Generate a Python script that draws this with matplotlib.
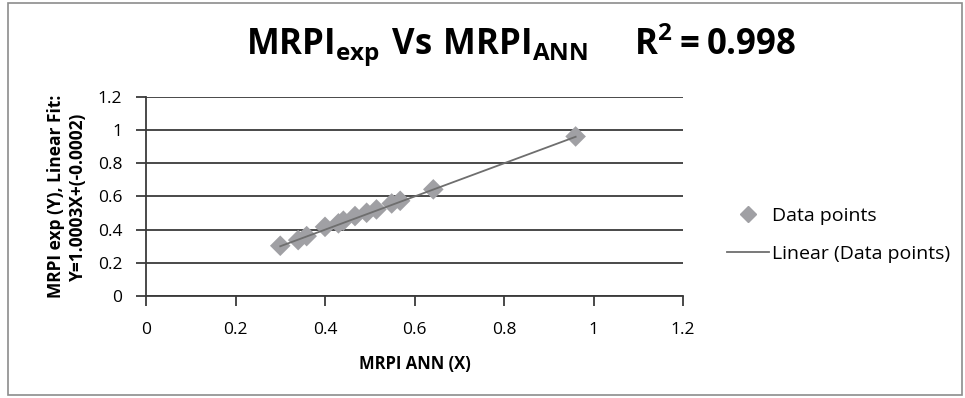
import matplotlib
matplotlib.use("Agg")
import matplotlib.pyplot as plt
from matplotlib.patches import Rectangle
from matplotlib.lines import Line2D
import numpy as np

# Data
x_ann = [0.30, 0.34, 0.359, 0.40, 0.43, 0.441, 0.467, 0.493, 0.515, 0.549, 0.568, 0.642, 0.96]
y_exp = [0.303, 0.337, 0.361, 0.417, 0.438, 0.454, 0.482, 0.502, 0.522, 0.558, 0.574, 0.643, 0.962]
slope = 1.0003
intercept = -0.0002
xticks = [0, 0.2, 0.4, 0.6, 0.8, 1, 1.2]
yticks = [0, 0.2, 0.4, 0.6, 0.8, 1, 1.2]

plt.rcParams['font.family'] = ['Open Sans', 'DejaVu Sans']
plt.rcParams['mathtext.fontset'] = 'custom'
plt.rcParams['mathtext.rm'] = 'Open Sans:bold'
plt.rcParams['mathtext.default'] = 'rm'

fig = plt.figure(figsize=(9.65, 3.98), dpi=100)
fig.patches.append(Rectangle((0.0083, 0.0075), 0.9886, 0.985, transform=fig.transFigure,
                             fill=False, edgecolor='#8c8c8c', linewidth=1.2))
ax = fig.add_axes([0.1513, 0.2563, 0.5565, 0.5])

ax.scatter(x_ann, y_exp, marker='D', s=110, color='#a0a0a4', edgecolors='none', zorder=3,
           label='Data points')
xl = np.array([min(x_ann), max(x_ann)])
ax.plot(xl, slope * xl + intercept, color='#6e6e6e', linewidth=1.3, zorder=4,
        label='Linear (Data points)')

ax.set_xlim(0, 1.2)
ax.set_ylim(0, 1.2)
ax.set_xticks(xticks)
ax.set_yticks(yticks)
ax.set_xticklabels([f'{t:g}' for t in xticks])
ax.set_yticklabels([f'{t:g}' for t in yticks])
ax.yaxis.grid(True, color='#3a3a3a', linewidth=1.3)
ax.set_axisbelow(True)
for s in ['top', 'right']:
    ax.spines[s].set_visible(False)
for s in ['bottom', 'left']:
    ax.spines[s].set_color('#3a3a3a')
    ax.spines[s].set_linewidth(1.3)
ax.tick_params(axis='y', length=7, width=1.3, direction='out', color='#3a3a3a',
               labelsize=12.5, pad=10)
ax.tick_params(axis='x', length=7, width=1.3, direction='out', color='#3a3a3a',
               labelsize=12.5, pad=12)

ax.set_xlabel('MRPI ANN (X)', fontsize=12, fontweight='bold', labelpad=12)
ax.set_ylabel('MRPI exp (Y), Linear Fit:\nY=1.0003X+(-0.0002)', fontsize=12.5,
              fontweight='bold', labelpad=8, linespacing=1.3)

fig.text(0.54, 0.89, r'$MRPI_{exp}\ Vs\ MRPI_{ANN}\quad\ R^{2} = 0.998$',
         fontsize=25, ha='center', va='center')

leg = fig.legend(handles=[
    Line2D([], [], marker='D', color='#a0a0a4', linestyle='none', markersize=8),
    Line2D([], [], color='#6e6e6e', linewidth=1.3)],
    labels=['Data points', 'Linear (Data points)'],
    loc='center left', bbox_to_anchor=(0.745, 0.41), frameon=False, fontsize=14,
    handlelength=2.2, labelspacing=1.0, handletextpad=0.15, borderaxespad=0)

fig.savefig('out.png', dpi=100)
